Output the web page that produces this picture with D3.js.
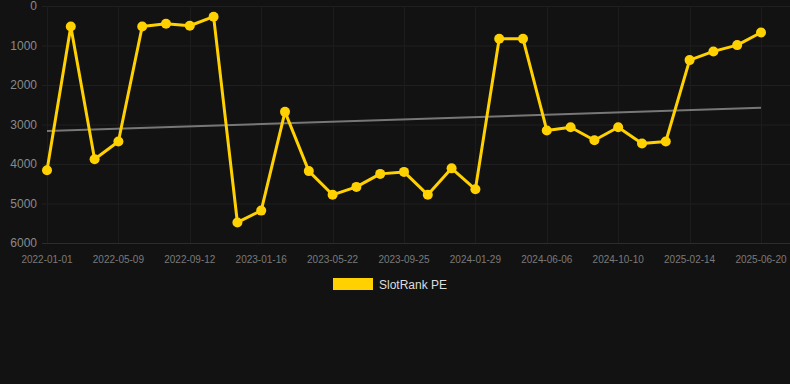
<!DOCTYPE html>
<html>
<head>
<meta charset="utf-8">
<script src="https://cdn.jsdelivr.net/npm/d3@7"></script>
<style>
  html, body { margin: 0; padding: 0; background: #121212; }
  svg { display: block; font-family: "Liberation Sans", Arial, sans-serif; }
</style>
</head>
<body>
<svg width="790" height="384"></svg>
<script>
// dates of each rank sample
const dates = [
  "2022-01-01", "2022-02-12", "2022-03-26", "2022-05-09", "2022-06-20", "2022-08-01",
  "2022-09-12", "2022-10-24", "2022-12-05", "2023-01-16", "2023-02-27", "2023-04-10",
  "2023-05-22", "2023-07-03", "2023-08-14", "2023-09-25", "2023-11-06", "2023-12-18",
  "2024-01-29", "2024-03-11", "2024-04-22", "2024-06-06", "2024-07-18", "2024-08-29",
  "2024-10-10", "2024-11-21", "2025-01-02", "2025-02-14", "2025-03-28", "2025-05-09",
  "2025-06-20"
];

// SlotRank PE values (lower is better, axis is inverted)
const rank = [
  4160, 520, 3880, 3430, 520, 450,
  500, 270, 5480, 5180, 2680, 4180,
  4780, 4580, 4250, 4200, 4780, 4110,
  4640, 830, 830, 3150, 3070, 3400,
  3070, 3480, 3430, 1370, 1150, 990,
  670
];

// trend line, first and last value
const trend = [3165, 2575];

const yTicks = [0, 1000, 2000, 3000, 4000, 5000, 6000];
const seriesName = "SlotRank PE";

const svg = d3.select("svg");
const plotLeft = 42, plotRight = 790, plotTop = 6, plotBottom = 243;

const x = d3.scalePoint()
    .domain(dates)
    .range([47, 761]);

const y = d3.scaleLinear()
    .domain([0, 6000])
    .range([plotTop, plotBottom]);

// horizontal grid
svg.append("g")
  .selectAll("line")
  .data(yTicks)
  .enter().append("line")
    .attr("x1", plotLeft)
    .attr("x2", plotRight)
    .attr("y1", d => y(d) + 0.5)
    .attr("y2", d => y(d) + 0.5)
    .attr("stroke", d => d === 6000 ? "#2c2c2c" : "#1f1f1f");

// vertical grid at labelled dates
const labelled = dates.filter((d, i) => i % 3 === 0);
svg.append("g")
  .selectAll("line")
  .data(labelled)
  .enter().append("line")
    .attr("x1", d => Math.round(x(d)) + 0.5)
    .attr("x2", d => Math.round(x(d)) + 0.5)
    .attr("y1", plotTop)
    .attr("y2", plotBottom)
    .attr("stroke", "#1c1c1c");

// y labels
svg.append("g")
  .selectAll("text")
  .data(yTicks)
  .enter().append("text")
    .attr("x", 37)
    .attr("y", d => y(d) + 4)
    .attr("text-anchor", "end")
    .attr("fill", "#8a8a8a")
    .style("font-size", "12px")
    .text(d => d);

// x labels
svg.append("g")
  .selectAll("text")
  .data(labelled)
  .enter().append("text")
    .attr("x", d => x(d))
    .attr("y", 263)
    .attr("text-anchor", "middle")
    .attr("fill", "#7a7a7a")
    .style("font-size", "10px")
    .text(d => d);

// trend line
svg.append("line")
    .attr("x1", x(dates[0]))
    .attr("x2", x(dates[dates.length - 1]))
    .attr("y1", y(trend[0]))
    .attr("y2", y(trend[1]))
    .attr("stroke", "#777")
    .attr("stroke-width", 2);

// rank line
const line = d3.line()
    .x((d, i) => x(dates[i]))
    .y(d => y(d));

svg.append("path")
    .datum(rank)
    .attr("d", line)
    .attr("fill", "none")
    .attr("stroke", "#FFD100")
    .attr("stroke-width", 3)
    .attr("stroke-linejoin", "round");

svg.append("g")
  .selectAll("circle")
  .data(rank)
  .enter().append("circle")
    .attr("cx", (d, i) => x(dates[i]))
    .attr("cy", d => y(d))
    .attr("r", 5)
    .attr("fill", "#FFD100");

// legend
const legend = svg.append("g");
legend.append("rect")
    .attr("x", 333)
    .attr("y", 278)
    .attr("width", 40)
    .attr("height", 12)
    .attr("fill", "#FFD100");
legend.append("text")
    .attr("x", 379)
    .attr("y", 288.5)
    .attr("fill", "#dddddd")
    .style("font-size", "12px")
    .text(seriesName);
</script>
</body>
</html>
